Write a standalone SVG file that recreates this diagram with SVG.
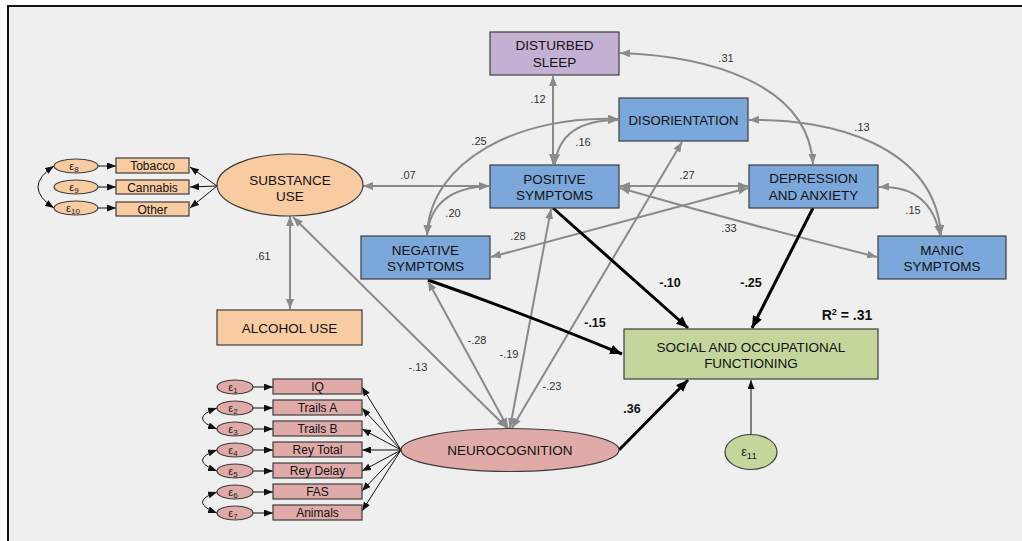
<svg xmlns="http://www.w3.org/2000/svg" width="1022" height="541" viewBox="0 0 1022 541">
<style>
.box{stroke:#3c3c3c;stroke-width:1.2}
.blue{fill:#7ca7da}
.org{fill:#f8cba1}
.pink{fill:#dfaaa8}
.grn{fill:#c4d69c}
.pur{fill:#c3b1d3}
.t{font-family:"Liberation Sans",Arial,sans-serif;font-size:13.5px;fill:#111;text-anchor:middle}
.s{font-family:"Liberation Sans",Arial,sans-serif;font-size:12px;fill:#111;text-anchor:middle}
.e{font-family:"Liberation Sans",Arial,sans-serif;font-size:11px;fill:#222;text-anchor:middle}
.n{font-family:"Liberation Sans",Arial,sans-serif;font-size:11px;fill:#333;text-anchor:middle}
.b{font-family:"Liberation Sans",Arial,sans-serif;font-size:12.5px;font-weight:bold;fill:#111;text-anchor:middle}
.g{fill:none;stroke:#8a8a8a;stroke-width:2;marker-start:url(#ag);marker-end:url(#ag)}
.k{fill:none;stroke:#000;stroke-width:3;marker-end:url(#ab)}
.th{fill:none;stroke:#111;stroke-width:1;marker-end:url(#at)}
.cv{fill:none;stroke:#111;stroke-width:1;marker-start:url(#at);marker-end:url(#at)}
</style>
<defs>
<marker id="ag" viewBox="0 0 10 8" refX="10" refY="4" markerWidth="10" markerHeight="8" markerUnits="userSpaceOnUse" orient="auto-start-reverse"><path d="M0,0 L10,4 L0,8 z" fill="#8a8a8a"/></marker>
<marker id="ab" viewBox="0 0 12 10" refX="12" refY="5" markerWidth="12" markerHeight="10" markerUnits="userSpaceOnUse" orient="auto-start-reverse"><path d="M0,0 L12,5 L0,10 z" fill="#000"/></marker>
<marker id="at" viewBox="0 0 9 7" refX="9" refY="3.5" markerWidth="9" markerHeight="7" markerUnits="userSpaceOnUse" orient="auto-start-reverse"><path d="M0,0 L9,3.5 L0,7 z" fill="#111"/></marker>
</defs>
<rect x="0" y="0" width="1022" height="541" fill="#fff"/>
<rect x="8" y="6" width="1030" height="545" fill="#efefef" stroke="#111" stroke-width="2"/>

<g id="connectors">
<path class="g" d="M553,76 L553,164"/>
<path class="g" d="M620,53 C705,56 808,82 813,164"/>
<path class="g" d="M618,120 Q560,120 555,164"/>
<path class="g" d="M618,119 C520,115 430,160 427,235"/>
<path class="g" d="M427,235 Q432,188 489,186"/>
<path class="g" d="M363,186 L489,186"/>
<path class="g" d="M620,186 L748,186"/>
<path class="g" d="M620,188 Q745,224 877,257"/>
<path class="g" d="M748,188 L491,257"/>
<path class="g" d="M749,120 C830,118 935,145 941,235"/>
<path class="g" d="M879,187 Q930,185 940,235"/>
<path class="g" d="M290,216 L290,309"/>
<path class="g" d="M507,428 L293,217"/>
<path class="g" d="M508,428 L428,281"/>
<path class="g" d="M510,428 L551,209"/>
<path class="g" d="M512,428 L682,142"/>
<path class="k" d="M553,208 L688,328"/>
<path class="k" d="M813,208 L752,328"/>
<path class="k" d="M428,280 Q520,312 622,354"/>
<path class="k" d="M619,450 L688,380"/>
<path class="th" d="M751,435 L751,380"/>
<path class="th" d="M217,186 L190,167"/>
<path class="th" d="M217,186 L190,187"/>
<path class="th" d="M217,186 L190,208"/>
<path class="th" d="M98,166 L116,166"/>
<path class="th" d="M98,187 L116,187"/>
<path class="th" d="M98,208 L116,208"/>
<path class="cv" d="M54,166 Q22,187 54,208"/>
<path class="th" d="M401,450 L362,387"/>
<path class="th" d="M401,450 L362,408"/>
<path class="th" d="M401,450 L362,429"/>
<path class="th" d="M401,450 L362,450"/>
<path class="th" d="M401,450 L362,471"/>
<path class="th" d="M401,450 L362,491"/>
<path class="th" d="M401,450 L362,511"/>
<path class="th" d="M253,387 L273,387"/>
<path class="th" d="M253,408 L273,408"/>
<path class="th" d="M253,429 L273,429"/>
<path class="th" d="M253,450 L273,450"/>
<path class="th" d="M253,471 L273,471"/>
<path class="th" d="M253,492 L273,492"/>
<path class="th" d="M253,513 L273,513"/>
<path class="cv" d="M217,408 Q188,418 217,429"/>
<path class="cv" d="M217,450 Q188,460 217,471"/>
<path class="cv" d="M217,492 Q188,502 217,513"/>
</g>

<g id="labels">
<text class="n" x="538" y="103">.12</text>
<text class="n" x="583" y="146">.16</text>
<text class="n" x="479" y="145">.25</text>
<text class="n" x="408" y="179">.07</text>
<text class="n" x="453" y="217">.20</text>
<text class="n" x="726" y="62">.31</text>
<text class="n" x="862" y="131">.13</text>
<text class="n" x="687" y="179">.27</text>
<text class="n" x="913" y="214">.15</text>
<text class="n" x="729" y="232">.33</text>
<text class="n" x="518" y="240">.28</text>
<text class="n" x="263" y="260">.61</text>
<text class="n" x="477" y="344">-.28</text>
<text class="n" x="509" y="358">-.19</text>
<text class="n" x="418" y="371">-.13</text>
<text class="n" x="552" y="390">-.23</text>
<text class="b" x="670" y="287">-.10</text>
<text class="b" x="751" y="287">-.25</text>
<text class="b" x="595" y="327">-.15</text>
<text class="b" x="632" y="413">.36</text>
<text class="b" x="847" y="320" style="font-size:14px">R<tspan dy="-5" style="font-size:9px">2</tspan><tspan dy="5"> = .31</tspan></text>
</g>

<g id="disturbed-sleep"><rect class="box pur" x="490" y="32" width="129" height="43"/><text class="t" x="554.5" y="50">DISTURBED</text><text class="t" x="554.5" y="67">SLEEP</text></g>
<g id="disorientation"><rect class="box blue" x="619" y="98" width="129" height="43"/><text class="t" x="683.5" y="124.5" textLength="110" lengthAdjust="spacingAndGlyphs">DISORIENTATION</text></g>
<g id="positive-symptoms"><rect class="box blue" x="490" y="165" width="129" height="43"/><text class="t" x="554.5" y="184">POSITIVE</text><text class="t" x="554.5" y="200">SYMPTOMS</text></g>
<g id="depression-anxiety"><rect class="box blue" x="749" y="165" width="129" height="43"/><text class="t" x="813.5" y="183">DEPRESSION</text><text class="t" x="813.5" y="200">AND ANXIETY</text></g>
<g id="negative-symptoms"><rect class="box blue" x="361" y="236" width="129" height="43"/><text class="t" x="425.5" y="255">NEGATIVE</text><text class="t" x="425.5" y="271">SYMPTOMS</text></g>
<g id="manic-symptoms"><rect class="box blue" x="878" y="236" width="128" height="43"/><text class="t" x="942" y="255">MANIC</text><text class="t" x="942" y="271">SYMPTOMS</text></g>
<g id="substance-use"><ellipse class="box org" cx="290" cy="185" rx="73" ry="31"/><text class="t" x="290" y="185">SUBSTANCE</text><text class="t" x="290" y="201">USE</text></g>
<g id="alcohol-use"><rect class="box org" x="217" y="310" width="145" height="35"/><text class="t" x="289.5" y="333">ALCOHOL USE</text></g>
<g id="social-functioning"><rect class="box grn" x="624" y="329" width="254" height="50"/><text class="t" x="751" y="352">SOCIAL AND OCCUPATIONAL</text><text class="t" x="751" y="368">FUNCTIONING</text></g>
<g id="e11"><ellipse class="box grn" cx="751" cy="452" rx="26" ry="17.5"/><text class="e" x="749" y="456" style="font-size:12.5px">ε<tspan dy="3" style="font-size:9.5px">11</tspan></text></g>
<g id="neurocognition"><ellipse class="box pink" cx="510" cy="450" rx="109" ry="21.5"/><text class="t" x="510" y="455">NEUROCOGNITION</text></g>

<g id="tobacco"><rect class="box org" x="116" y="158" width="73" height="15"/><text class="s" x="152.5" y="170">Tobacco</text></g>
<g id="cannabis"><rect class="box org" x="116" y="180" width="73" height="14"/><text class="s" x="152.5" y="191.5">Cannabis</text></g>
<g id="other"><rect class="box org" x="116" y="202" width="73" height="14"/><text class="s" x="152.5" y="213.5">Other</text></g>
<g id="e8"><ellipse class="box org" cx="76" cy="166" rx="22" ry="7"/><text class="e" x="74" y="169.5">ε<tspan dy="2" style="font-size:8px">8</tspan></text></g>
<g id="e9"><ellipse class="box org" cx="76" cy="187" rx="22" ry="7"/><text class="e" x="74" y="190.5">ε<tspan dy="2" style="font-size:8px">9</tspan></text></g>
<g id="e10"><ellipse class="box org" cx="76" cy="208" rx="22" ry="7"/><text class="e" x="73" y="211.5">ε<tspan dy="2" style="font-size:8px">10</tspan></text></g>

<g id="iq"><rect class="box pink" x="273" y="379" width="89" height="15"/><text class="s" x="317.5" y="391">IQ</text></g>
<g id="trails-a"><rect class="box pink" x="273" y="400" width="89" height="15"/><text class="s" x="317.5" y="412">Trails A</text></g>
<g id="trails-b"><rect class="box pink" x="273" y="421" width="89" height="15"/><text class="s" x="317.5" y="433">Trails B</text></g>
<g id="rey-total"><rect class="box pink" x="273" y="442" width="89" height="15"/><text class="s" x="317.5" y="454">Rey Total</text></g>
<g id="rey-delay"><rect class="box pink" x="273" y="463" width="89" height="15"/><text class="s" x="317.5" y="475">Rey Delay</text></g>
<g id="fas"><rect class="box pink" x="273" y="484" width="89" height="15"/><text class="s" x="317.5" y="496">FAS</text></g>
<g id="animals"><rect class="box pink" x="273" y="505" width="89" height="15"/><text class="s" x="317.5" y="517">Animals</text></g>
<g id="e1"><ellipse class="box pink" cx="235" cy="387" rx="18" ry="7"/><text class="e" x="233" y="390.5">ε<tspan dy="2" style="font-size:8px">1</tspan></text></g>
<g id="e2"><ellipse class="box pink" cx="235" cy="408" rx="18" ry="7"/><text class="e" x="233" y="411.5">ε<tspan dy="2" style="font-size:8px">2</tspan></text></g>
<g id="e3"><ellipse class="box pink" cx="235" cy="429" rx="18" ry="7"/><text class="e" x="233" y="432.5">ε<tspan dy="2" style="font-size:8px">3</tspan></text></g>
<g id="e4"><ellipse class="box pink" cx="235" cy="450" rx="18" ry="7"/><text class="e" x="233" y="453.5">ε<tspan dy="2" style="font-size:8px">4</tspan></text></g>
<g id="e5"><ellipse class="box pink" cx="235" cy="471" rx="18" ry="7"/><text class="e" x="233" y="474.5">ε<tspan dy="2" style="font-size:8px">5</tspan></text></g>
<g id="e6"><ellipse class="box pink" cx="235" cy="492" rx="18" ry="7"/><text class="e" x="233" y="495.5">ε<tspan dy="2" style="font-size:8px">6</tspan></text></g>
<g id="e7"><ellipse class="box pink" cx="235" cy="513" rx="18" ry="7"/><text class="e" x="233" y="516.5">ε<tspan dy="2" style="font-size:8px">7</tspan></text></g>
</svg>
